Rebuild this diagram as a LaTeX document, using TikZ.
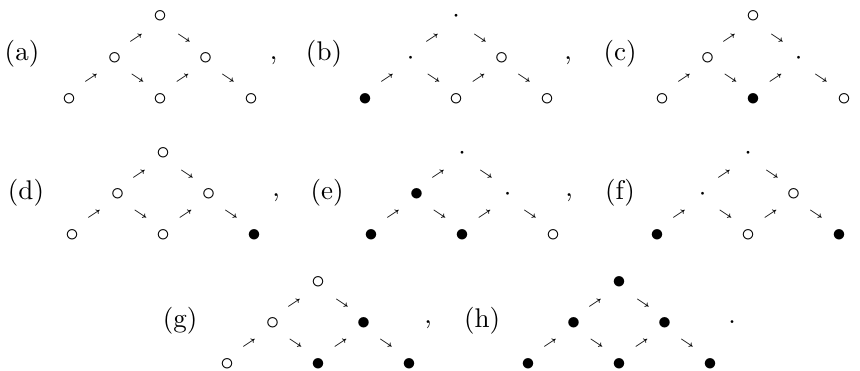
\documentclass[tikz,border=0pt]{standalone}
\usepackage{graphicx}
\newcommand\myNE{\scalebox{0.68}{\boldmath$\scriptscriptstyle\nearrow$}}
\newcommand\mySE{\scalebox{0.68}{\boldmath$\scriptscriptstyle\searrow$}}
\tikzset{
  sym/.style={inner sep=0pt, anchor=center},
  arr/.style={inner sep=0pt, anchor=center},
  lab/.style={inner sep=0pt, anchor=center},
}
% #1 prefix, #2 x, #3 y, #4 top, #5 ml, #6 mr, #7 bl, #8 bm, #9 br
\newcommand\motif[9]{%
  \node[sym] (#1t) at (#2,#3) {$#4$};
  \node[sym] (#1l) at ({#2-45.5},{#3+41.3}) {$#5$};
  \node[sym] (#1r) at ({#2+45.5},{#3+41.3}) {$#6$};
  \node[sym] (#1p) at ({#2-91},{#3+82.6}) {$#7$};
  \node[sym] (#1q) at ({#2},{#3+82.6}) {$#8$};
  \node[sym] (#1s) at ({#2+91},{#3+82.6}) {$#9$};
  \node[arr] (#1u) at ({#2-24},{#3+21.6}) {\myNE};
  \node[arr] (#1v) at ({#2+24},{#3+21.6}) {\mySE};
  \node[arr] (#1w) at ({#2-69},{#3+61.6}) {\myNE};
  \node[arr] (#1x) at ({#2-22.5},{#3+61.6}) {\mySE};
  \node[arr] (#1y) at ({#2+22.5},{#3+61.6}) {\myNE};
  \node[arr] (#1z) at ({#2+68},{#3+61.6}) {\mySE};
}
\begin{document}
\begin{tikzpicture}[x=0.37037pt,y=-0.37037pt]
\useasboundingbox (0,0) rectangle (860,370);
% row 1
\node[lab] (la) at (22,53.3) {(a)};
\motif{a}{160}{16.7}{\circ}{\circ}{\circ}{\circ}{\circ}{\circ}
\node[lab] (ca) at (273.5,61) {,};
\node[lab] (lb) at (324,53.3) {(b)};
\motif{b}{456}{16.7}{\cdot}{\cdot}{\circ}{\bullet}{\circ}{\circ}
\node[lab] (cb) at (568,61) {,};
\node[lab] (lc) at (620,53.3) {(c)};
\motif{c}{753}{16.7}{\circ}{\circ}{\cdot}{\circ}{\bullet}{\circ}
% row 2
\node[lab] (ld) at (26,193) {(d)};
\motif{d}{163}{153}{\circ}{\circ}{\circ}{\circ}{\circ}{\bullet}
\node[lab] (cd) at (276,198) {,};
\node[lab] (le) at (327,193) {(e)};
\motif{e}{462}{153}{\cdot}{\bullet}{\cdot}{\bullet}{\bullet}{\circ}
\node[lab] (ce) at (569,198) {,};
\node[lab] (lf) at (620,193) {(f)};
\motif{f}{748}{153}{\cdot}{\cdot}{\circ}{\bullet}{\circ}{\bullet}
\node[lab] (cf) at (862,198) {,};
% row 3
\node[lab] (lg) at (180,321) {(g)};
\motif{g}{318}{282}{\circ}{\circ}{\bullet}{\circ}{\bullet}{\bullet}
\node[lab] (cg) at (428,325) {,};
\node[lab] (lh) at (482,321) {(h)};
\motif{h}{619}{282}{\bullet}{\bullet}{\bullet}{\bullet}{\bullet}{\bullet}
\node[lab] (ph) at (732,322) {.};
\end{tikzpicture}
\end{document}
